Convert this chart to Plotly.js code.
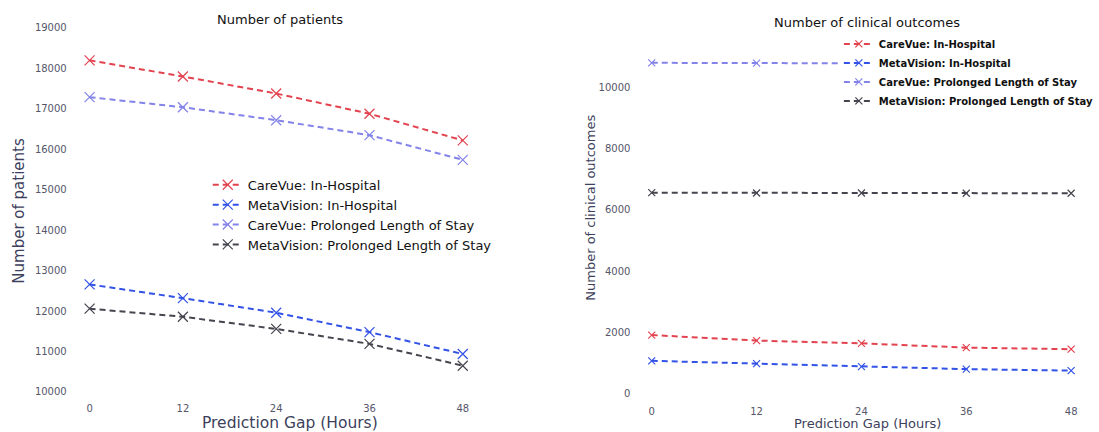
<!DOCTYPE html>
<html>
<head>
<meta charset="utf-8">
<script src="https://cdn.plot.ly/plotly-3.0.1.min.js"></script>
<style>
  html, body { margin: 0; padding: 0; background: #ffffff; }
  #chart { width: 1099px; height: 432px; }
</style>
</head>
<body>
<div id="chart"></div>
<script>
// Prediction gap (hours) shared by both panels
const gapHours = [0, 12, 24, 36, 48];
const gapTickLabels = ["0", "12", "24", "36", "48"];

// Series names
const seriesNames = [
  "CareVue: In-Hospital",
  "MetaVision: In-Hospital",
  "CareVue: Prolonged Length of Stay",
  "MetaVision: Prolonged Length of Stay"
];

// Left panel: number of patients
const careVueInHospPatients    = [18200, 17800, 17380, 16880, 16220];
const metaVisionInHospPatients = [12660, 12320, 11960, 11480, 10940];
const careVueLosPatients       = [17290, 17040, 16720, 16350, 15740];
const metaVisionLosPatients    = [12060, 11860, 11560, 11190, 10650];

// Right panel: number of clinical outcomes
const careVueInHospOutcomes    = [1920, 1740, 1650, 1510, 1460];
const metaVisionInHospOutcomes = [1080, 990, 890, 810, 760];
const careVueLosOutcomes       = [10790, 10780, 10780, 10770, 10760];
const metaVisionLosOutcomes    = [6560, 6550, 6550, 6540, 6540];

const patientTicks = [10000, 11000, 12000, 13000, 14000, 15000, 16000, 17000, 18000, 19000];
const patientTickLabels = ["10000", "11000", "12000", "13000", "14000", "15000", "16000", "17000", "18000", "19000"];
const outcomeTicks = [0, 2000, 4000, 6000, 8000, 10000];
const outcomeTickLabels = ["0", "2000", "4000", "6000", "8000", "10000"];

const colors = ["#e2434f", "#3352e6", "#8383ea", "#45454f"];
const FONT = "DejaVu Sans, sans-serif";

function series(y, i, xa, ya, legendId, msize) {
  return {
    x: gapHours, y: y, name: seriesNames[i],
    type: "scatter", mode: "lines+markers",
    xaxis: xa, yaxis: ya, legend: legendId,
    line: { color: colors[i], width: 2, dash: "6px,4px" },
    marker: { symbol: "x-thin", size: msize, color: colors[i],
              line: { color: colors[i], width: 1.2 } },
    cliponaxis: false
  };
}

const leftSeries = [careVueInHospPatients, metaVisionInHospPatients, careVueLosPatients, metaVisionLosPatients];
const rightSeries = [careVueInHospOutcomes, metaVisionInHospOutcomes, careVueLosOutcomes, metaVisionLosOutcomes];

const data = [];
leftSeries.forEach((y, i) => data.push(series(y, i, "x", "y", "legend", 10)));
rightSeries.forEach((y, i) => data.push(series(y, i, "x2", "y2", "legend2", 7)));

const tickFont = { family: FONT, size: 10, color: "#55566a" };
const baseAxis = {
  showgrid: false, zeroline: false, showline: false, ticks: "",
  tickfont: tickFont, automargin: false, fixedrange: true
};

const titleColor = "#3d3f5c";
function label(text, px, py, size, color, angle) {
  return {
    text: text, xref: "paper", yref: "paper", x: px / 1099, y: 1 - py / 432,
    xanchor: "center", yanchor: "middle", textangle: angle || 0,
    showarrow: false, font: { family: FONT, size: size, color: color }
  };
}

const layout = {
  width: 1099, height: 432,
  margin: { l: 0, r: 0, t: 0, b: 0 },
  paper_bgcolor: "#ffffff", plot_bgcolor: "#ffffff",
  font: { family: FONT },
  xaxis: Object.assign({}, baseAxis, {
    domain: [0.0792, 0.4313], range: [-0.5, 48.5], anchor: "y",
    tickvals: gapHours, ticktext: gapTickLabels, ticklabelstandoff: 9
  }),
  yaxis: Object.assign({}, baseAxis, {
    domain: [0.0926, 0.9352], range: [10000, 19000], anchor: "x",
    tickvals: patientTicks, ticktext: patientTickLabels, ticklabelstandoff: 18
  }),
  xaxis2: Object.assign({}, baseAxis, {
    domain: [0.5983, 0.9940], range: [-0.5, 48.5], anchor: "y2",
    tickvals: gapHours, ticktext: gapTickLabels, ticklabelstandoff: 10
  }),
  yaxis2: Object.assign({}, baseAxis, {
    domain: [0.088, 0.905], range: [0, 11500], anchor: "x2",
    tickvals: outcomeTicks, ticktext: outcomeTickLabels, ticklabelstandoff: 16
  }),
  legend: {
    x: 0.192, y: 0.607, xanchor: "left", yanchor: "top",
    bgcolor: "rgba(255,255,255,0.9)", borderwidth: 0,
    font: { family: FONT, size: 13, color: "#111111" },
    tracegroupgap: 0, itemwidth: 30
  },
  legend2: {
    x: 0.7753, y: 0.932, xanchor: "left", yanchor: "top",
    bgcolor: "#ffffff", borderwidth: 0,
    font: { family: FONT, size: 10, color: "#111111", weight: "bold" },
    tracegroupgap: 0, itemwidth: 30
  },
  annotations: [
    label("Number of patients", 284, 20, 13, "#111111"),
    label("Number of clinical outcomes", 881, 22, 13, "#111111"),
    label("Prediction Gap (Hours)", 295, 423, 15.5, titleColor),
    label("Prediction Gap (Hours)", 881, 423, 13, titleColor),
    label("Number of patients", 19, 211, 15, titleColor, -90),
    label("Number of clinical outcomes", 600, 208, 13, titleColor, -90)
  ],
  showlegend: true
};

Plotly.newPlot("chart", data, layout, { displayModeBar: false, staticPlot: true });
</script>
</body>
</html>
